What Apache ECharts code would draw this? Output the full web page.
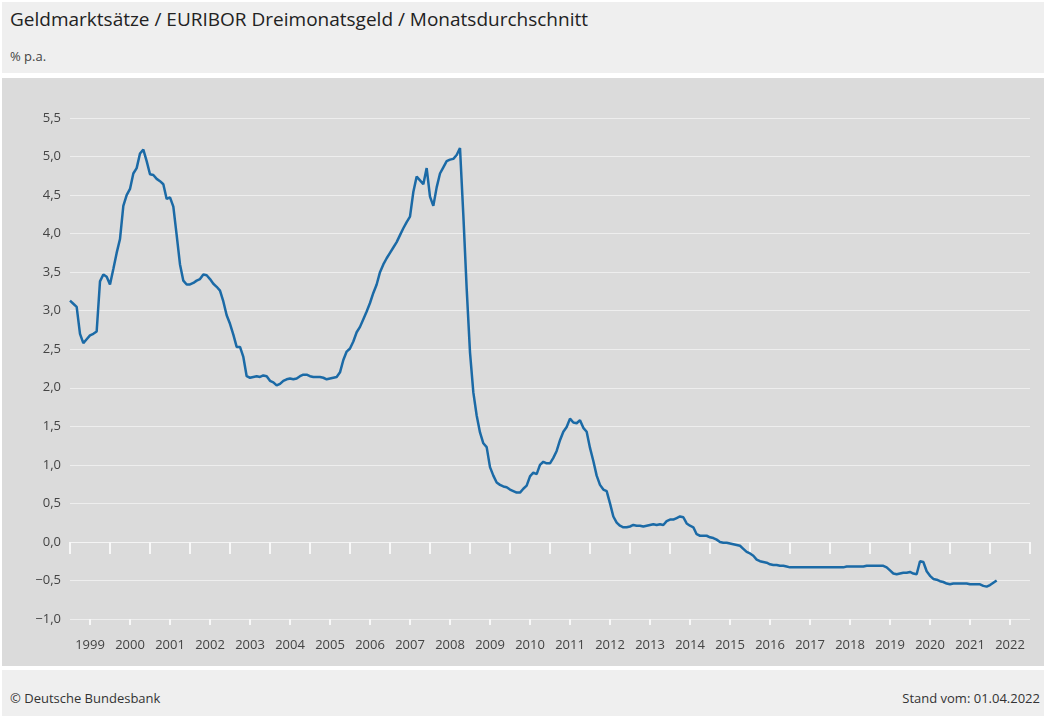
<!DOCTYPE html>
<html>
<head>
<meta charset="utf-8">
<script src="https://cdn.jsdelivr.net/npm/echarts@6/dist/echarts.min.js"></script>
<style>
  html, body { margin: 0; padding: 0; background: #fff; }
  body { width: 1044px; height: 716px; position: relative; overflow: hidden; font-family: "Open Sans", "Noto Sans", sans-serif; color: #333; }
  .head { position: absolute; left: 2px; top: 2px; width: 1042px; height: 71px; background: #efefef; }
  .title { position: absolute; left: 8px; top: 4px; font-size: 19px; color: #222; white-space: nowrap; }
  .unit { position: absolute; left: 8px; top: 45px; font-size: 13px; color: #444; }
  #chart { position: absolute; left: 2px; top: 78px; width: 1042px; height: 588px; }
  .foot { position: absolute; left: 2px; top: 670px; width: 1042px; height: 46px; background: #efefef; font-size: 13px; color: #333; }
  .foot .l { position: absolute; left: 8px; top: 19px; }
  .foot .r { position: absolute; right: 4px; top: 19px; }
</style>
</head>
<body>
<div class="head">
  <div class="title">Geldmarktsätze / EURIBOR Dreimonatsgeld / Monatsdurchschnitt</div>
  <div class="unit">% p.a.</div>
</div>
<div id="chart"></div>
<div class="foot">
  <div class="l">© Deutsche Bundesbank</div>
  <div class="r">Stand vom: 01.04.2022</div>
</div>
<script>
// Jahre der Achse (Beschriftung in der Jahresmitte)
const years = [1999, 2000, 2001, 2002, 2003, 2004, 2005, 2006, 2007, 2008, 2009, 2010,
  2011, 2012, 2013, 2014, 2015, 2016, 2017, 2018, 2019, 2020, 2021, 2022];

// Monatsdurchschnitte, % p.a.
const r1999 = [3.13, 3.09, 3.05, 2.70, 2.58, 2.63, 2.68, 2.70, 2.73, 3.38, 3.47, 3.44];
const r2000 = [3.34, 3.54, 3.75, 3.93, 4.36, 4.50, 4.58, 4.78, 4.85, 5.04, 5.09, 4.94];
const r2001 = [4.77, 4.76, 4.71, 4.68, 4.64, 4.45, 4.47, 4.35, 3.98, 3.60, 3.39, 3.34];
const r2002 = [3.34, 3.36, 3.39, 3.41, 3.47, 3.46, 3.41, 3.35, 3.31, 3.26, 3.12, 2.94];
const r2003 = [2.83, 2.69, 2.53, 2.53, 2.40, 2.15, 2.13, 2.14, 2.15, 2.14, 2.16, 2.15];
const r2004 = [2.09, 2.07, 2.03, 2.05, 2.09, 2.11, 2.12, 2.11, 2.12, 2.15, 2.17, 2.17];
const r2005 = [2.15, 2.14, 2.14, 2.14, 2.13, 2.11, 2.12, 2.13, 2.14, 2.20, 2.36, 2.47];
const r2006 = [2.51, 2.60, 2.72, 2.79, 2.89, 2.99, 3.10, 3.23, 3.34, 3.50, 3.60, 3.68];
const r2007 = [3.75, 3.82, 3.89, 3.98, 4.07, 4.15, 4.22, 4.54, 4.74, 4.69, 4.64, 4.85];
const r2008 = [4.48, 4.36, 4.60, 4.78, 4.86, 4.94, 4.96, 4.97, 5.02, 5.11, 4.24, 3.29];
const r2009 = [2.46, 1.94, 1.64, 1.42, 1.28, 1.23, 0.97, 0.86, 0.77, 0.74, 0.72, 0.71];
const r2010 = [0.68, 0.66, 0.64, 0.64, 0.69, 0.73, 0.85, 0.90, 0.88, 1.00, 1.04, 1.02];
const r2011 = [1.02, 1.09, 1.18, 1.32, 1.43, 1.49, 1.60, 1.55, 1.54, 1.58, 1.48, 1.43];
const r2012 = [1.22, 1.05, 0.86, 0.74, 0.68, 0.66, 0.50, 0.33, 0.25, 0.21, 0.19, 0.19];
const r2013 = [0.20, 0.22, 0.21, 0.21, 0.20, 0.21, 0.22, 0.23, 0.22, 0.23, 0.22, 0.27];
const r2014 = [0.29, 0.29, 0.31, 0.33, 0.32, 0.24, 0.21, 0.19, 0.10, 0.08, 0.08, 0.08];
const r2015 = [0.06, 0.05, 0.03, 0.00, -0.01, -0.01, -0.02, -0.03, -0.04, -0.05, -0.09, -0.13];
const r2016 = [-0.15, -0.18, -0.23, -0.25, -0.26, -0.27, -0.29, -0.30, -0.30, -0.31, -0.31, -0.32];
const r2017 = [-0.33, -0.33, -0.33, -0.33, -0.33, -0.33, -0.33, -0.33, -0.33, -0.33, -0.33, -0.33];
const r2018 = [-0.33, -0.33, -0.33, -0.33, -0.33, -0.32, -0.32, -0.32, -0.32, -0.32, -0.32, -0.31];
const r2019 = [-0.31, -0.31, -0.31, -0.31, -0.31, -0.33, -0.37, -0.41, -0.42, -0.41, -0.40, -0.40];
const r2020 = [-0.39, -0.41, -0.42, -0.25, -0.26, -0.38, -0.44, -0.48, -0.49, -0.51, -0.52, -0.54];
const r2021 = [-0.55, -0.54, -0.54, -0.54, -0.54, -0.54, -0.55, -0.55, -0.55, -0.55, -0.57, -0.58];
const r2022 = [-0.56, -0.53, -0.50];

const rates = [].concat(r1999, r2000, r2001, r2002, r2003, r2004, r2005, r2006, r2007, r2008,
  r2009, r2010, r2011, r2012, r2013, r2014, r2015, r2016, r2017, r2018, r2019, r2020, r2021, r2022);

// Monatskategorien Jan 1999 .. Jan 2023 (Achsenende)
let months = [];
years.forEach(function (y) {
  for (let m = 1; m <= 12; m++) months.push(y + '-' + (m < 10 ? '0' + m : m));
});
months.push((years[years.length - 1] + 1) + '-01');

let myChart = echarts.init(document.getElementById('chart'));
const axisFont = { fontFamily: '"Open Sans", "Noto Sans", sans-serif', fontSize: 13, color: '#444' };

myChart.setOption({
  backgroundColor: '#dbdbdb',
  animation: false,
  grid: { left: 68, right: 14, top: 40, bottom: 47 },
  xAxis: [
    {
      type: 'category',
      data: months,
      boundaryGap: false,
      position: 'bottom',
      axisLine: { lineStyle: { color: '#f4f4f4', width: 1 } },
      axisTick: {
        length: 12,
        lineStyle: { color: '#f8f8f8', width: 2 },
        interval: function (i) { return i % 12 === 0; }
      },
      axisLabel: Object.assign({}, axisFont, {
        margin: 20,
        interval: function (i) { return i % 12 === 6; },
        formatter: function (v) { return v.slice(0, 4); }
      }),
      splitLine: { show: false }
    },
    {
      type: 'category',
      data: months,
      boundaryGap: false,
      position: 'bottom',
      axisLine: { show: false },
      axisTick: {
        length: 6,
        lineStyle: { color: '#f8f8f8', width: 2 },
        interval: function (i) { return i % 12 === 6; }
      },
      axisLabel: { show: false },
      splitLine: { show: false }
    }
  ],
  yAxis: {
    type: 'value',
    min: -1,
    max: 5.5,
    interval: 0.5,
    axisLine: { show: false },
    axisTick: { show: false },
    axisLabel: Object.assign({}, axisFont, {
      margin: 9,
      formatter: function (v) {
        return v.toFixed(1).replace('.', ',').replace('-', '\u2212');
      }
    }),
    splitLine: { lineStyle: { color: '#eeeeee', width: 1 } }
  },
  series: [
    {
      name: 'EURIBOR Dreimonatsgeld',
      type: 'line',
      data: rates,
      showSymbol: false,
      symbol: 'none',
      lineStyle: { color: '#1b6aa6', width: 2.5 },
      z: 5
    }
  ]
});
</script>
</body>
</html>
